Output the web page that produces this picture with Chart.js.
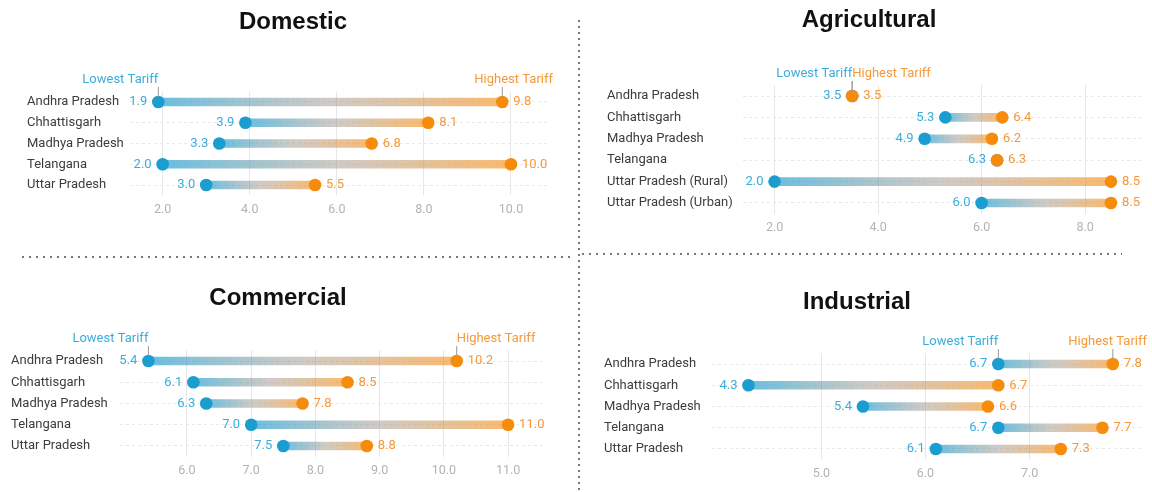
<!DOCTYPE html>
<html>
<head>
<meta charset="utf-8">
<script src="https://cdn.jsdelivr.net/npm/chart.js@4.4.1/dist/chart.umd.min.js"></script>
<style>
  body { margin: 0; background: #fff; width: 1152px; height: 492px; position: relative; overflow: hidden; }
  .panel { position: absolute; }
  .hsep { position: absolute; height: 2px; background-image: linear-gradient(to right, #777 2px, transparent 2px); background-size: 7px 2px; }
  .vsep { position: absolute; width: 2px; background-image: linear-gradient(to bottom, #777 2px, transparent 2px); background-size: 2px 6px; }
</style>
</head>
<body>
<div class="panel" style="left:0;top:0;width:576px;height:250px"><canvas id="Domestic"></canvas></div>
<div class="panel" style="left:576px;top:0;width:576px;height:250px"><canvas id="Agricultural"></canvas></div>
<div class="panel" style="left:0;top:250px;width:576px;height:242px"><canvas id="Commercial"></canvas></div>
<div class="panel" style="left:576px;top:250px;width:576px;height:242px"><canvas id="Industrial"></canvas></div>
<div class="hsep" style="left:22px;top:256px;width:551px"></div>
<div class="hsep" style="left:582px;top:253px;width:540px"></div>
<div class="vsep" style="left:578px;top:20px;height:472px"></div>

<script>
// data
const domesticStates = ['Andhra Pradesh', 'Chhattisgarh', 'Madhya Pradesh', 'Telangana', 'Uttar Pradesh'];
const domesticLow = [1.9, 3.9, 3.3, 2.0, 3.0];
const domesticHigh = [9.8, 8.1, 6.8, 10.0, 5.5];
const domesticTicks = [2, 4, 6, 8, 10];

const agriStates = ['Andhra Pradesh', 'Chhattisgarh', 'Madhya Pradesh', 'Telangana', 'Uttar Pradesh (Rural)', 'Uttar Pradesh (Urban)'];
const agriLow = [3.5, 5.3, 4.9, 6.3, 2.0, 6.0];
const agriHigh = [3.5, 6.4, 6.2, 6.3, 8.5, 8.5];
const agriTicks = [2, 4, 6, 8];

const commercialStates = ['Andhra Pradesh', 'Chhattisgarh', 'Madhya Pradesh', 'Telangana', 'Uttar Pradesh'];
const commercialLow = [5.4, 6.1, 6.3, 7.0, 7.5];
const commercialHigh = [10.2, 8.5, 7.8, 11.0, 8.8];
const commercialTicks = [6, 7, 8, 9, 10, 11];

const industrialStates = ['Andhra Pradesh', 'Chhattisgarh', 'Madhya Pradesh', 'Telangana', 'Uttar Pradesh'];
const industrialLow = [6.7, 4.3, 5.4, 6.7, 6.1];
const industrialHigh = [7.8, 6.7, 6.6, 7.7, 7.3];
const industrialTicks = [5, 6, 7];

const BLUE = '#1b9dd0';
const ORANGE = '#f78b0c';
const BLUE_TXT = '#3badda';
const ORANGE_TXT = '#f5993a';
const FONT = 'Roboto';

// labels, annotations and title
const dumbbellLabels = {
  id: 'dumbbellLabels',
  afterDatasetsDraw(chart, args, opts) {
    const ctx = chart.ctx;
    const lowMeta = chart.getDatasetMeta(1);
    const highMeta = chart.getDatasetMeta(2);
    const lows = chart.data.datasets[1].data;
    const highs = chart.data.datasets[2].data;
    ctx.save();
    ctx.font = '13px ' + FONT;
    ctx.textBaseline = 'middle';
    lowMeta.data.forEach((pt, i) => {
      ctx.fillStyle = BLUE_TXT;
      ctx.textAlign = 'right';
      ctx.fillText(lows[i].toFixed(1), pt.x - 11, pt.y);
    });
    highMeta.data.forEach((pt, i) => {
      ctx.fillStyle = ORANGE_TXT;
      ctx.textAlign = 'left';
      ctx.fillText(highs[i].toFixed(1), pt.x + 11, pt.y);
    });

    const a = lowMeta.data[0], b = highMeta.data[0];
    const ty = a.y - 22;
    ctx.strokeStyle = '#999';
    ctx.lineWidth = 1;
    [a.x, b.x].forEach(x => {
      ctx.beginPath();
      ctx.moveTo(x, ty + 7);
      ctx.lineTo(x, a.y - 5);
      ctx.stroke();
    });
    ctx.font = '13px ' + FONT;
    ctx.textAlign = 'right';
    ctx.fillStyle = BLUE_TXT;
    ctx.fillText('Lowest Tariff', a.x, ty);
    const w = ctx.measureText('Highest Tariff').width;
    const hx = Math.min(b.x, chart.chartArea.right + 5 - w);
    ctx.textAlign = 'left';
    ctx.fillStyle = ORANGE_TXT;
    ctx.fillText('Highest Tariff', hx, ty);

    ctx.font = 'bold 24px "Liberation Sans", Arial';
    ctx.fillStyle = '#111';
    ctx.textAlign = 'center';
    ctx.fillText(opts.title, opts.titleX, opts.titleY);
    ctx.restore();
  }
};

function barGradient(c) {
  const chart = c.chart;
  if (!chart.chartArea || c.type !== 'data') return 'rgba(30,158,208,0.5)';
  const x = chart.scales.x;
  const x0 = x.getPixelForValue(c.raw[0]);
  const x1 = x.getPixelForValue(c.raw[1]);
  if (x1 - x0 < 1) return 'rgba(30,158,208,0.5)';
  const g = chart.ctx.createLinearGradient(x0, 0, x1, 0);
  g.addColorStop(0, 'rgba(27,157,208,0.66)');
  g.addColorStop(0.5, 'rgba(160,150,140,0.5)');
  g.addColorStop(1, 'rgba(247,139,12,0.6)');
  return g;
}

function dumbbell(id, cfg) {
  const el = document.getElementById(id);
  const H = el.parentNode.clientHeight;
  const W = el.parentNode.clientWidth;
  return new Chart(el.getContext('2d'), {
    type: 'bar',
    data: {
      labels: cfg.states,
      datasets: [
        {
          data: cfg.low.map((v, i) => [v, cfg.high[i]]),
          backgroundColor: barGradient,
          barThickness: 8,
          borderWidth: 0,
          borderSkipped: false,
          order: 3
        },
        {
          type: 'line', indexAxis: 'y', showLine: false,
          data: cfg.low,
          pointRadius: 6.3, pointBackgroundColor: BLUE, pointBorderWidth: 0,
          order: 2
        },
        {
          type: 'line', indexAxis: 'y', showLine: false,
          data: cfg.high,
          pointRadius: 6.3, pointBackgroundColor: ORANGE, pointBorderWidth: 0,
          order: 1
        }
      ]
    },
    options: {
      indexAxis: 'y',
      responsive: true,
      maintainAspectRatio: false,
      animation: false,
      events: [],
      layout: { padding: { left: cfg.labelX, top: cfg.area.top, right: W - cfg.area.right, bottom: 0 } },
      scales: {
        x: {
          type: 'linear',
          min: cfg.min, max: cfg.max,
          afterBuildTicks: axis => { axis.ticks = cfg.ticks.map(v => ({ value: v })); },
          afterFit: axis => { axis.height = H - cfg.area.bottom; },
          grid: { color: '#e6e6e6', drawTicks: false },
          border: { display: false },
          ticks: { padding: 7, color: '#b3b3b3', font: { family: FONT, size: 12.5 }, callback: v => Number(v).toFixed(1) }
        },
        y: {
          afterFit: axis => { axis.width = cfg.area.left - cfg.labelX; },
          grid: { color: '#e9e9e9', offset: false, drawTicks: false },
          border: { display: false, dash: [3, 3] },
          ticks: { crossAlign: 'far', color: '#3c3c3c', font: { family: FONT, size: 13 } }
        }
      },
      plugins: {
        legend: { display: false },
        tooltip: { enabled: false },
        dumbbellLabels: { title: id, titleX: cfg.titleX, titleY: cfg.titleY }
      }
    },
    plugins: [dumbbellLabels]
  });
}

dumbbell('Domestic', {
  states: domesticStates, low: domesticLow, high: domesticHigh, ticks: domesticTicks,
  min: 1.25, max: 10.85, labelX: 27,
  area: { left: 130, right: 548, top: 91.6, bottom: 195.4 },
  titleX: 293, titleY: 22
});
dumbbell('Agricultural', {
  states: agriStates, low: agriLow, high: agriHigh, ticks: agriTicks,
  min: 1.39, max: 9.1, labelX: 31,
  area: { left: 167, right: 566, top: 85.3, bottom: 213.7 },
  titleX: 293, titleY: 20
});
dumbbell('Commercial', {
  states: commercialStates, low: commercialLow, high: commercialHigh, ticks: commercialTicks,
  min: 4.95, max: 11.59, labelX: 11,
  area: { left: 119.5, right: 546, top: 100.4, bottom: 206.6 },
  titleX: 278, titleY: 48
});
dumbbell('Industrial', {
  states: industrialStates, low: industrialLow, high: industrialHigh, ticks: industrialTicks,
  min: 3.95, max: 8.08, labelX: 28,
  area: { left: 136, right: 566, top: 103.4, bottom: 209.6 },
  titleX: 281, titleY: 52
});
</script>
</body>
</html>
